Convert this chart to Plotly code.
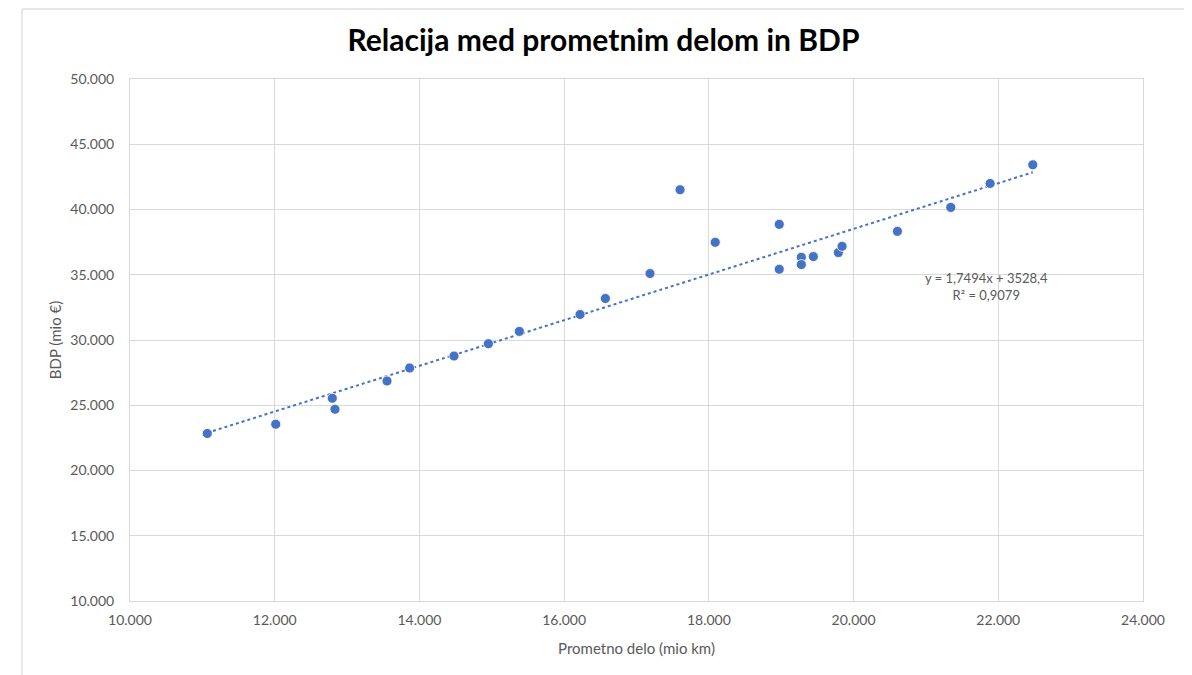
import plotly.graph_objects as go

# Data
prometno_delo = [11068, 12014, 12796, 12833, 13552, 13865, 14478, 14953, 15381,
                 16220, 16570, 17187, 17602, 18088, 18973, 18973, 19278, 19278,
                 19444, 19790, 19841, 20606, 21343, 21887, 22477]
bdp = [22836, 23547, 25535, 24694, 26858, 27852, 28770, 29716, 30658,
       31958, 33181, 35092, 41514, 37487, 38863, 35422, 36339, 35780,
       36392, 36698, 37180, 38326, 40161, 41996, 43425]

slope = 1.7494
intercept = 3528.4
r2_text = "R² = 0,9079"
eq_text = "y = 1,7494x + 3528,4"

x_ticks = [10000, 12000, 14000, 16000, 18000, 20000, 22000, 24000]
y_ticks = [10000, 15000, 20000, 25000, 30000, 35000, 40000, 45000, 50000]

blue = "#4472C4"
grey_text = "#595959"
grid = "#d9d9d9"

x_min, x_max = min(prometno_delo), max(prometno_delo)
trend_x = [x_min, x_max]
trend_y = [slope * v + intercept for v in trend_x]

# The page body adds an 8px offset; work in figure pixels = screen - 8
OFF = 8
W, H = 1192 - OFF, 675 - OFF
L, R, T, B = 130 - OFF, 1143 - OFF, 79 - OFF, 601 - OFF
PW, PH = R - L, B - T

def px_x(sx):
    return (sx - OFF - L) / PW

def px_y(sy):
    return (B - (sy - OFF)) / PH

fig = go.Figure()
fig.add_trace(go.Scatter(
    x=trend_x, y=trend_y, mode="lines",
    line=dict(color=blue, width=2, dash="dot"),
    hoverinfo="skip", showlegend=False))
fig.add_trace(go.Scatter(
    x=prometno_delo, y=bdp, mode="markers",
    marker=dict(color=blue, size=10, line=dict(color="#ffffff", width=0.8)),
    showlegend=False))

font_family = "Lato, Open Sans, Liberation Sans, sans-serif"

fig.update_layout(
    width=W, height=H,
    margin=dict(l=L, r=W - R, t=T, b=H - B),
    paper_bgcolor="white", plot_bgcolor="white",
    separators=",.",
    font=dict(family=font_family, color=grey_text, size=14),
    title=dict(text="<b>Relacija med prometnim delom in BDP</b>",
               x=(603.5 - OFF) / W, xanchor="center", y=1 - (40 - OFF) / H, yanchor="middle",
               font=dict(family=font_family, size=30, color="#000000")),
    xaxis=dict(range=[10000, 24000], tickvals=x_ticks, tickformat=",d",
               showgrid=True, gridcolor=grid, gridwidth=1,
               showline=True, linecolor=grid, linewidth=1, mirror=True,
               zeroline=False, ticks="", ticklen=0, ticklabelstandoff=6,
               tickfont=dict(size=14, color=grey_text),
               title=dict(text="Prometno delo (mio km)", standoff=16,
                          font=dict(size=15, color=grey_text))),
    yaxis=dict(range=[10000, 50000], tickvals=y_ticks, tickformat=",d",
               showgrid=True, gridcolor=grid, gridwidth=1,
               showline=True, linecolor=grid, linewidth=1, mirror=True,
               zeroline=False, ticks="", ticklen=0, ticklabelstandoff=12,
               tickfont=dict(size=14, color=grey_text),
               title=dict(text="BDP (mio €)", standoff=5,
                          font=dict(size=15, color=grey_text))),
    shapes=[dict(type="rect", xref="paper", yref="paper",
                 x0=px_x(22), x1=px_x(1185),
                 y0=px_y(700), y1=px_y(9),
                 line=dict(color="#d0d0d0", width=1), layer="below")],
    annotations=[dict(text=eq_text + "<br>" + r2_text, showarrow=False,
                      xref="paper", yref="paper",
                      x=px_x(986), y=px_y(286),
                      xanchor="center", yanchor="middle", align="center",
                      font=dict(size=13, color=grey_text))],
)

fig.write_html("out.html")
